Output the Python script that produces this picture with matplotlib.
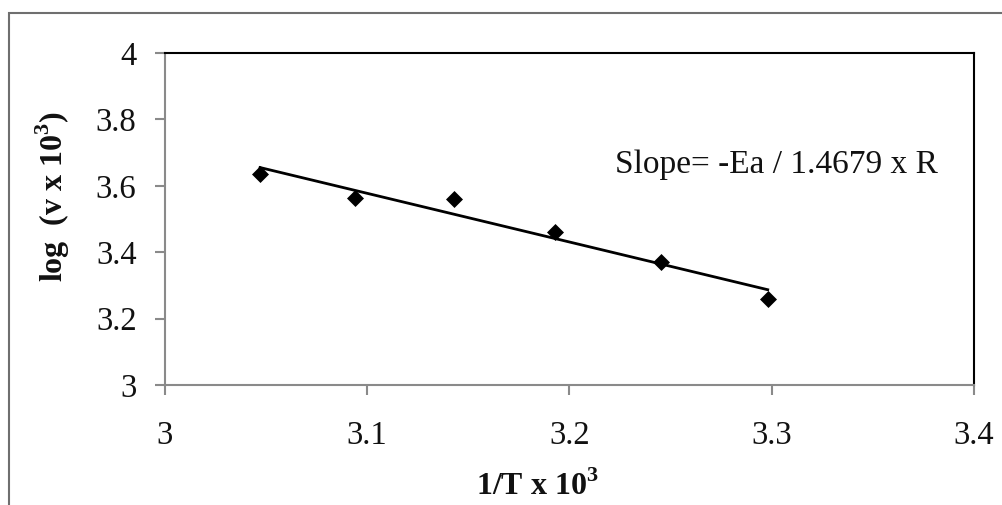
import numpy as np
import matplotlib
matplotlib.use("Agg")
import matplotlib.pyplot as plt
from matplotlib.patches import Rectangle

# Data
inv_T = [3.047, 3.094, 3.143, 3.193, 3.245, 3.298]
log_v = [3.636, 3.564, 3.559, 3.460, 3.371, 3.258]
x_ticks = [3.0, 3.1, 3.2, 3.3, 3.4]
x_tick_labels = ["3", "3.1", "3.2", "3.3", "3.4"]
y_ticks = [3.0, 3.2, 3.4, 3.6, 3.8, 4.0]
y_tick_labels = ["3", "3.2", "3.4", "3.6", "3.8", "4"]
annotation = "Slope= -Ea / 1.4679 x R"

W, H = 1003, 505
fig = plt.figure(figsize=(W / 100, H / 100), dpi=100)
plt.rcParams['font.family'] = ['Liberation Serif', 'DejaVu Serif']

# outer border
fig.patches.append(Rectangle((9 / W, -0.1), 1.1, (H - 13) / H + 0.1,
                             transform=fig.transFigure, fill=False,
                             edgecolor='#6f6f6f', linewidth=1.5))

left, right, top, bottom = 165, 974, 53, 385
ax = fig.add_axes([left / W, 1 - bottom / H, (right - left) / W, (bottom - top) / H])

ax.scatter(inv_T, log_v, marker='D', s=75, color='black', zorder=3, linewidths=0)
coef = np.polyfit(inv_T, log_v, 1)
xs = np.array([min(inv_T), max(inv_T)])
ax.plot(xs, np.polyval(coef, xs), color='black', lw=2, zorder=2)

ax.set_xlim(3.0, 3.4)
ax.set_ylim(3.0, 4.0)
ax.set_xticks(x_ticks)
ax.set_xticklabels(x_tick_labels)
ax.set_yticks(y_ticks)
ax.set_yticklabels(y_tick_labels)

for s in ['left', 'bottom']:
    ax.spines[s].set_color('#8a8a8a')
    ax.spines[s].set_linewidth(1.5)
for s in ['top', 'right']:
    ax.spines[s].set_color('black')
    ax.spines[s].set_linewidth(1.5)

ax.tick_params(axis='both', direction='out', length=7.5, width=1.5, color='#8a8a8a',
               labelsize=23.5, labelcolor='#111111')
ax.tick_params(axis='x', pad=18)
ax.tick_params(axis='y', pad=13)

ax.text(3.2225, 3.663, annotation, fontsize=24, color='#111111',
        ha='left', va='center', transform=ax.transData)

fig.text(537 / W, 1 - 486 / H, r"1/T x 10$^\mathregular{3}$", fontsize=23, fontweight='bold',
         ha='center', va='center', color='#111111')
fig.text(53 / W, 1 - 196 / H, r"log  (v x 10$^\mathregular{3}$)", fontsize=23, fontweight='bold',
         ha='center', va='center', rotation=90, color='#111111')

fig.savefig("out.png", dpi=100)
